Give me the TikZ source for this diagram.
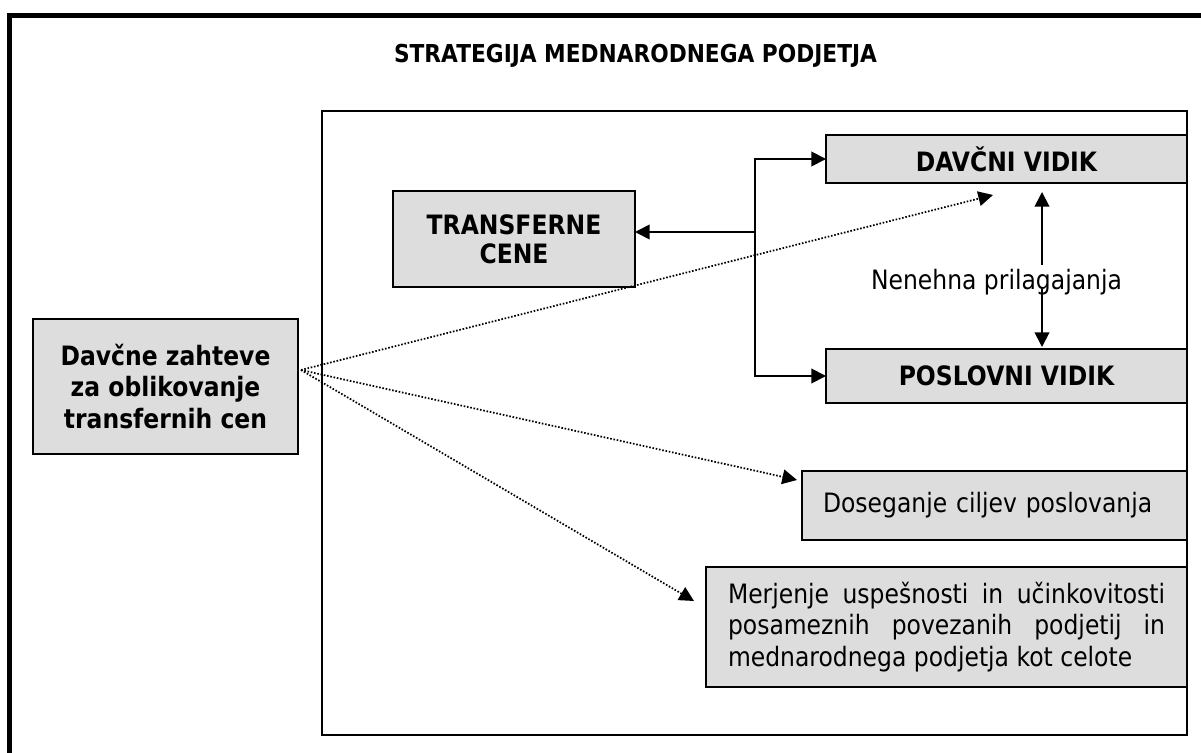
\documentclass[tikz,border=0pt]{standalone}
\usepackage{fontspec}
\setmainfont{DejaVu Sans}[FakeStretch=0.88]
\usetikzlibrary{arrows.meta}
\definecolor{boxfill}{RGB}{221,221,221}
\newcommand\pxu{0.75pt}
\hyphenpenalty=10000
\exhyphenpenalty=10000
\tolerance=9999
\emergencystretch=20pt
\tikzset{
  basefont/.style={font=\fontsize{20}{23.8}\selectfont},
  boldfont/.style={font=\fontsize{20}{23.8}\selectfont\bfseries},
  greybox/.style={draw, line width=1.3pt, fill=boxfill, anchor=north west,
    outer sep=0pt, inner sep=0pt, align=center},
  container/.style={draw, line width=1.3pt, anchor=north west, outer sep=0pt, inner sep=0pt},
  link/.style={line width=1.4pt, -{Triangle[length=11pt,width=11pt]}},
  duallink/.style={line width=1.4pt, {Triangle[length=11pt,width=11pt]}-{Triangle[length=11pt,width=11pt]}},
  dotlink/.style={line width=1.3pt, dash pattern=on 1.2pt off 1.3pt, -{Triangle[length=11pt,width=11pt]}},
}
\begin{document}
\begin{tikzpicture}[x=0.75pt,y=-0.75pt]
  \path[use as bounding box, clip] (0,0) rectangle (1201,752);
  \fill[white] (0,0) rectangle (1201,752);

  % outer frame of the strategy
  \draw[line width=3.75pt] (9.5,15.5) rectangle (1215,775);
  \node[font=\fontsize{18.5}{22}\selectfont\bfseries, anchor=base] (title) at (635.5,63)
    {STRATEGIJA MEDNARODNEGA PODJETJA};

  % inner field
  \node[container, minimum width=865*\pxu, minimum height=624*\pxu] (field) at (322,111) {};

  % boxes
  \node[greybox, font=\fontsize{20}{21.5}\selectfont\bfseries,
        minimum width=242*\pxu, minimum height=96*\pxu] (trans) at (393,191) {TRANSFERNE\\CENE};
  \node[greybox, boldfont, minimum width=265*\pxu, minimum height=135*\pxu] (davcne) at (33,319)
    {Davčne zahteve\\za oblikovanje\\transfernih cen};
  \node[greybox, boldfont, minimum width=361*\pxu, minimum height=48*\pxu] (davcni) at (826,135)
    {DAVČNI VIDIK};
  \node[greybox, boldfont, minimum width=361*\pxu, minimum height=54*\pxu] (poslovni) at (826,349)
    {POSLOVNI VIDIK};
  \node[greybox, basefont, align=left, inner xsep=21*\pxu, text width=343*\pxu,
        minimum height=69*\pxu] (cilji) at (802,471)
    {Doseganje ciljev poslovanja};
  \node[greybox, basefont, align=justify, inner xsep=22*\pxu, text width=437*\pxu,
        minimum height=120*\pxu] (merjenje) at (706,567)
    {Merjenje uspešnosti in učinkovitosti posameznih povezanih podjetij in mednarodnega podjetja kot celote};

  % solid connectors
  \coordinate (bus) at (755,232);
  \draw[link] (bus) |- (davcni.west);
  \draw[link] (bus) |- (poslovni.west);
  \draw[link] (bus) -- (bus -| trans.east);

  \coordinate (adjtop) at (1042,192);
  \coordinate (adjbot) at (1042,347);
  \draw[duallink] (adjtop) -- (adjbot);
  \node[basefont, fill=white, inner sep=0pt, text height=24*\pxu, text depth=0pt, anchor=base]
    (adjlabel) at (996.5,289) {Nenehna prilagajanja};

  % dotted connectors
  \coordinate (src) at (301,370);
  \coordinate (t1) at (993,195);
  \coordinate (t2) at (797,480);
  \coordinate (t3) at (694,601);
  \draw[dotlink] (src) -- (t1);
  \draw[dotlink] (src) -- (t2);
  \draw[dotlink] (src) -- (t3);
\end{tikzpicture}
\end{document}
